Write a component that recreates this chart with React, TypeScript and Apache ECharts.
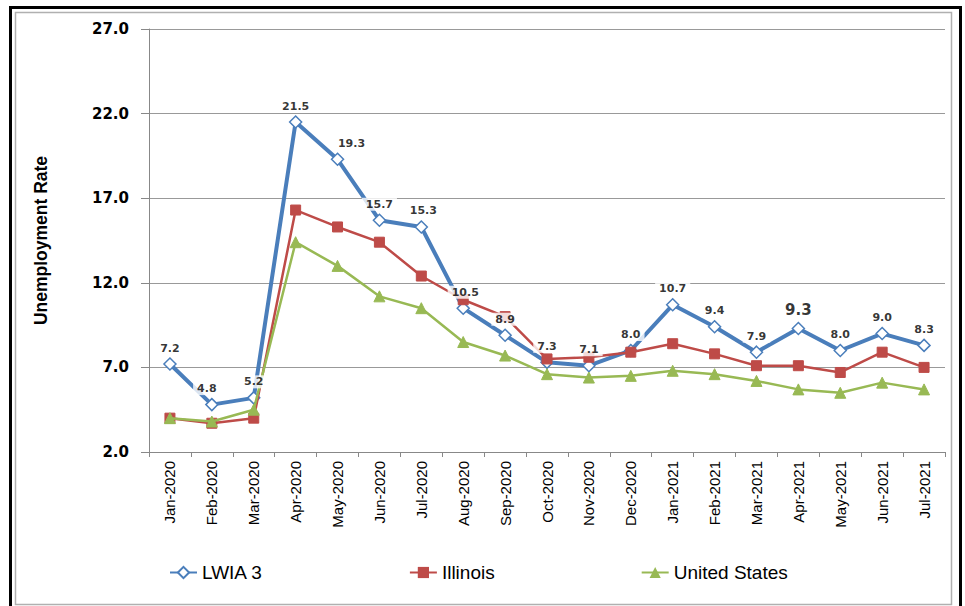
import React, { useEffect, useRef } from "react";
import * as echarts from "echarts";

const categories = [
  "Jan-2020", "Feb-2020", "Mar-2020", "Apr-2020", "May-2020", "Jun-2020", "Jul-2020",
  "Aug-2020", "Sep-2020", "Oct-2020", "Nov-2020", "Dec-2020", "Jan-2021", "Feb-2021",
  "Mar-2021", "Apr-2021", "May-2021", "Jun-2021", "Jul-2021",
];
const lwia3 = [7.2, 4.8, 5.2, 21.5, 19.3, 15.7, 15.3, 10.5, 8.9, 7.3, 7.1, 8.0, 10.7, 9.4, 7.9, 9.3, 8.0, 9.0, 8.3];
const illinois = [4.0, 3.7, 4.0, 16.3, 15.3, 14.4, 12.4, 11.0, 10.0, 7.5, 7.6, 7.9, 8.4, 7.8, 7.1, 7.1, 6.7, 7.9, 7.0];
const unitedStates = [4.0, 3.8, 4.5, 14.4, 13.0, 11.2, 10.5, 8.5, 7.7, 6.6, 6.4, 6.5, 6.8, 6.6, 6.2, 5.7, 5.5, 6.1, 5.7];
const yTicks = [2, 7, 12, 17, 22, 27];
const seriesNames = ["LWIA 3", "Illinois", "United States"];
const yAxisTitle = "Unemployment Rate";

// label style tweaks (layout only)
const labelShift: Record<string, number[]> = { "Feb-2020": [-5, 0], "May-2020": [14, 0], "Jul-2020": [2, 0], "Aug-2020": [2, 0] };
const bigLabel = "Apr-2021";

export default function App() {
  const ref = useRef<HTMLDivElement>(null);
  useEffect(() => {
    if (!ref.current) return;
    const chart = echarts.init(ref.current, undefined, { renderer: "svg" });
    const labelData = lwia3.map((v, i) => {
      const cat = categories[i];
      const label: any = {};
      if (labelShift[cat]) label.offset = labelShift[cat];
      if (cat === bigLabel) label.fontSize = 15;
      return { value: [cat, v], label };
    });
    chart.setOption({
      animation: false,
      backgroundColor: "#ffffff",
      grid: { left: 149, top: 29, right: 20, bottom: 154, containLabel: false },
      graphic: [
        { type: "rect", shape: { x: 10.5, y: 7.5, width: 950, height: 640 }, style: { fill: "none", stroke: "#000", lineWidth: 3 }, silent: true },
        { type: "rect", shape: { x: 15.5, y: 12.5, width: 936, height: 592 }, style: { fill: "none", stroke: "#b0b0b0", lineWidth: 1.5 }, silent: true },
      ],
      legend: {
        data: seriesNames,
        left: 164,
        top: 558,
        itemWidth: 27,
        itemHeight: 14,
        itemGap: 146,
        textStyle: { fontFamily: "Liberation Sans", fontSize: 19, color: "#000" },
      },
      xAxis: {
        type: "category",
        data: categories,
        boundaryGap: true,
        axisLine: { lineStyle: { color: "#888", width: 1 } },
        axisTick: { show: true, interval: 0, length: 5, lineStyle: { color: "#888" } },
        axisLabel: { interval: 0, rotate: 90, margin: 9, fontFamily: "Liberation Sans", fontSize: 15, color: "#000" },
        splitLine: { show: false },
      },
      yAxis: {
        type: "value",
        min: yTicks[0],
        max: yTicks[yTicks.length - 1],
        name: yAxisTitle,
        nameLocation: "middle",
        nameRotate: 90,
        nameGap: 99,
        nameTextStyle: { fontFamily: "Liberation Sans", fontWeight: "bold", fontSize: 17.5, color: "#000" },
        axisLine: { show: true, lineStyle: { color: "#888", width: 1 } },
        axisTick: { show: true, length: 8, customValues: yTicks, lineStyle: { color: "#888" } },
        axisLabel: {
          customValues: yTicks,
          margin: 20,
          fontFamily: "DejaVu Sans",
          fontWeight: "bold",
          fontSize: 15,
          color: "#000",
          formatter: (v: number) => v.toFixed(1),
        },
        splitLine: { show: true, lineStyle: { color: "#999", width: 1 } },
      },
      series: [
        {
          name: seriesNames[0],
          type: "line",
          data: lwia3,
          symbol: "diamond",
          symbolSize: 12,
          lineStyle: { color: "#4A7EBB", width: 4 },
          itemStyle: { color: "#ffffff", borderColor: "#4A7EBB", borderWidth: 1.5 },
          z: 2,
        },
        {
          name: seriesNames[1],
          type: "line",
          data: illinois,
          symbol: "rect",
          symbolSize: 10,
          lineStyle: { color: "#BE4B48", width: 2.5 },
          itemStyle: { color: "#BE4B48", borderColor: "#BE4B48" },
          z: 3,
        },
        {
          name: seriesNames[2],
          type: "line",
          data: unitedStates,
          symbol: "triangle",
          symbolSize: 11,
          lineStyle: { color: "#98B954", width: 2.5 },
          itemStyle: { color: "#98B954", borderColor: "#98B954" },
          z: 4,
        },
        {
          name: "LWIA 3 labels",
          type: "scatter",
          data: labelData,
          symbolSize: 1,
          silent: true,
          itemStyle: { color: "rgba(0,0,0,0)" },
          label: {
            show: true,
            position: "top",
            distance: 9,
            fontFamily: "DejaVu Sans",
            fontWeight: "bold",
            fontSize: 11,
            color: "#000",
            backgroundColor: "#ffffff",
            padding: [1, 4],
            formatter: (p: any) => Number(p.value[1]).toFixed(1),
          },
          z: 10,
        },
      ],
    });
    return () => chart.dispose();
  }, []);
  return <div ref={ref} style={{ position: "absolute", left: 0, top: 0, width: 965, height: 606 }} />;
}
